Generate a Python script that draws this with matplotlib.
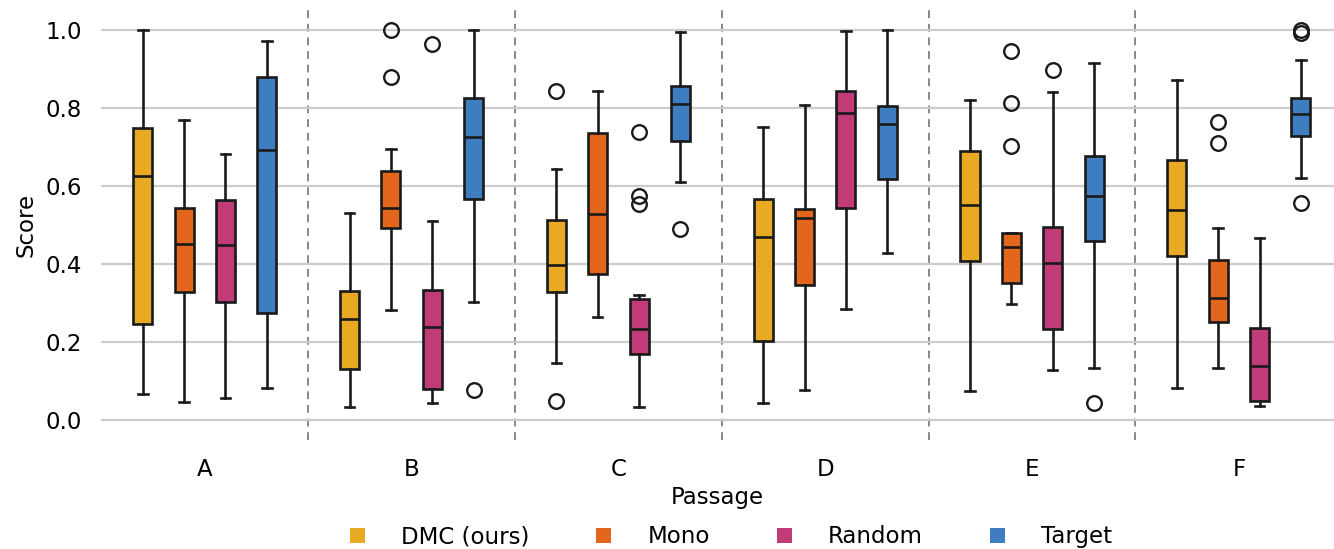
import matplotlib
matplotlib.use("Agg")
import matplotlib.pyplot as plt
from matplotlib.patches import Patch
import numpy as np

passages = ["A", "B", "C", "D", "E", "F"]
methods = ["DMC (ours)", "Mono", "Random", "Target"]
colors = ["#E8A923", "#E2661C", "#C13B78", "#3E7DC0"]

# per passage, per method: (whislo, q1, med, q3, whishi)
dmc = [(0.065, 0.246, 0.626, 0.747, 1.000),
       (0.033, 0.130, 0.258, 0.331, 0.530),
       (0.147, 0.328, 0.396, 0.513, 0.642),
       (0.042, 0.201, 0.469, 0.567, 0.752),
       (0.073, 0.408, 0.550, 0.688, 0.821),
       (0.081, 0.421, 0.538, 0.665, 0.872)]
mono = [(0.046, 0.327, 0.452, 0.544, 0.769),
        (0.282, 0.493, 0.542, 0.638, 0.695),
        (0.263, 0.374, 0.527, 0.736, 0.844),
        (0.077, 0.345, 0.517, 0.541, 0.807),
        (0.297, 0.351, 0.444, 0.480, 0.480),
        (0.133, 0.252, 0.312, 0.411, 0.491)]
rand = [(0.057, 0.301, 0.448, 0.564, 0.682),
        (0.043, 0.079, 0.237, 0.334, 0.511),
        (0.033, 0.168, 0.232, 0.311, 0.321),
        (0.285, 0.542, 0.786, 0.843, 0.996),
        (0.129, 0.232, 0.403, 0.494, 0.840),
        (0.036, 0.049, 0.138, 0.235, 0.465)]
target = [(0.081, 0.275, 0.691, 0.879, 0.972),
          (0.301, 0.567, 0.726, 0.826, 1.000),
          (0.609, 0.715, 0.809, 0.855, 0.995),
          (0.427, 0.617, 0.758, 0.804, 1.000),
          (0.134, 0.458, 0.574, 0.676, 0.915),
          (0.621, 0.728, 0.785, 0.826, 0.922)]

fliers_dmc = [[], [], [0.842, 0.049], [], [], []]
fliers_mono = [[], [1.0, 0.879], [], [], [0.946, 0.813, 0.703], [0.763, 0.709]]
fliers_rand = [[], [0.963], [0.737, 0.573, 0.554], [], [0.897], []]
fliers_target = [[], [0.077], [0.489], [], [0.042], [1.0, 0.991, 0.556]]

series = [dmc, mono, rand, target]
fliers = [fliers_dmc, fliers_mono, fliers_rand, fliers_target]

plt.rcParams["font.family"] = "DejaVu Sans"
fig = plt.figure(figsize=(13.34, 5.49), dpi=100)
ax = fig.add_axes([0.076, 0.199, 0.924, 0.783])

offsets = [-0.3, -0.1, 0.1, 0.3]
for m in range(4):
    stats = []
    for p in range(6):
        lo, q1, med, q3, hi = series[m][p]
        stats.append(dict(whislo=lo, q1=q1, med=med, q3=q3, whishi=hi,
                          fliers=fliers[m][p]))
    pos = [p + offsets[m] for p in range(6)]
    ax.bxp(stats, positions=pos, widths=0.092, patch_artist=True,
           showfliers=True, manage_ticks=False,
           boxprops=dict(facecolor=colors[m], edgecolor="#1a1a1a", linewidth=1.9),
           medianprops=dict(color="#1a1a1a", linewidth=1.9),
           whiskerprops=dict(color="#1a1a1a", linewidth=1.9),
           capprops=dict(color="#1a1a1a", linewidth=1.9),
           flierprops=dict(marker="o", markerfacecolor="none",
                           markeredgecolor="#1a1a1a", markersize=10.5,
                           markeredgewidth=1.7))

for b in np.arange(0.5, 5.5, 1.0):
    ax.axvline(b, color="#888888", linestyle=(0, (4, 3)), linewidth=1.4, zorder=0)

ax.set_xlim(-0.5, 5.46)
ax.set_ylim(-0.051, 1.051)
ax.set_yticks([0.0, 0.2, 0.4, 0.6, 0.8, 1.0])
ax.set_xticks(range(6))
ax.set_xticklabels(passages)
ax.yaxis.grid(True, color="#cccccc", linewidth=1.6)
ax.set_axisbelow(True)
ax.tick_params(axis="y", length=0, labelsize=16.5, pad=14)
ax.tick_params(axis="x", length=0, labelsize=16.5, pad=13.5)
for s in ax.spines.values():
    s.set_visible(False)
ax.set_ylabel("Score", fontsize=16.5, labelpad=6)
ax.set_xlabel("Passage", fontsize=16.5, labelpad=3)

handles = [Patch(facecolor=c, edgecolor="none") for c in colors]
fig.legend(handles, methods, loc="center", bbox_to_anchor=(0.548, 0.022),
           ncol=4, frameon=False, fontsize=16.5, handlelength=0.65,
           handleheight=0.65, columnspacing=2.9, handletextpad=1.6)

fig.savefig("out.png", dpi=100)
